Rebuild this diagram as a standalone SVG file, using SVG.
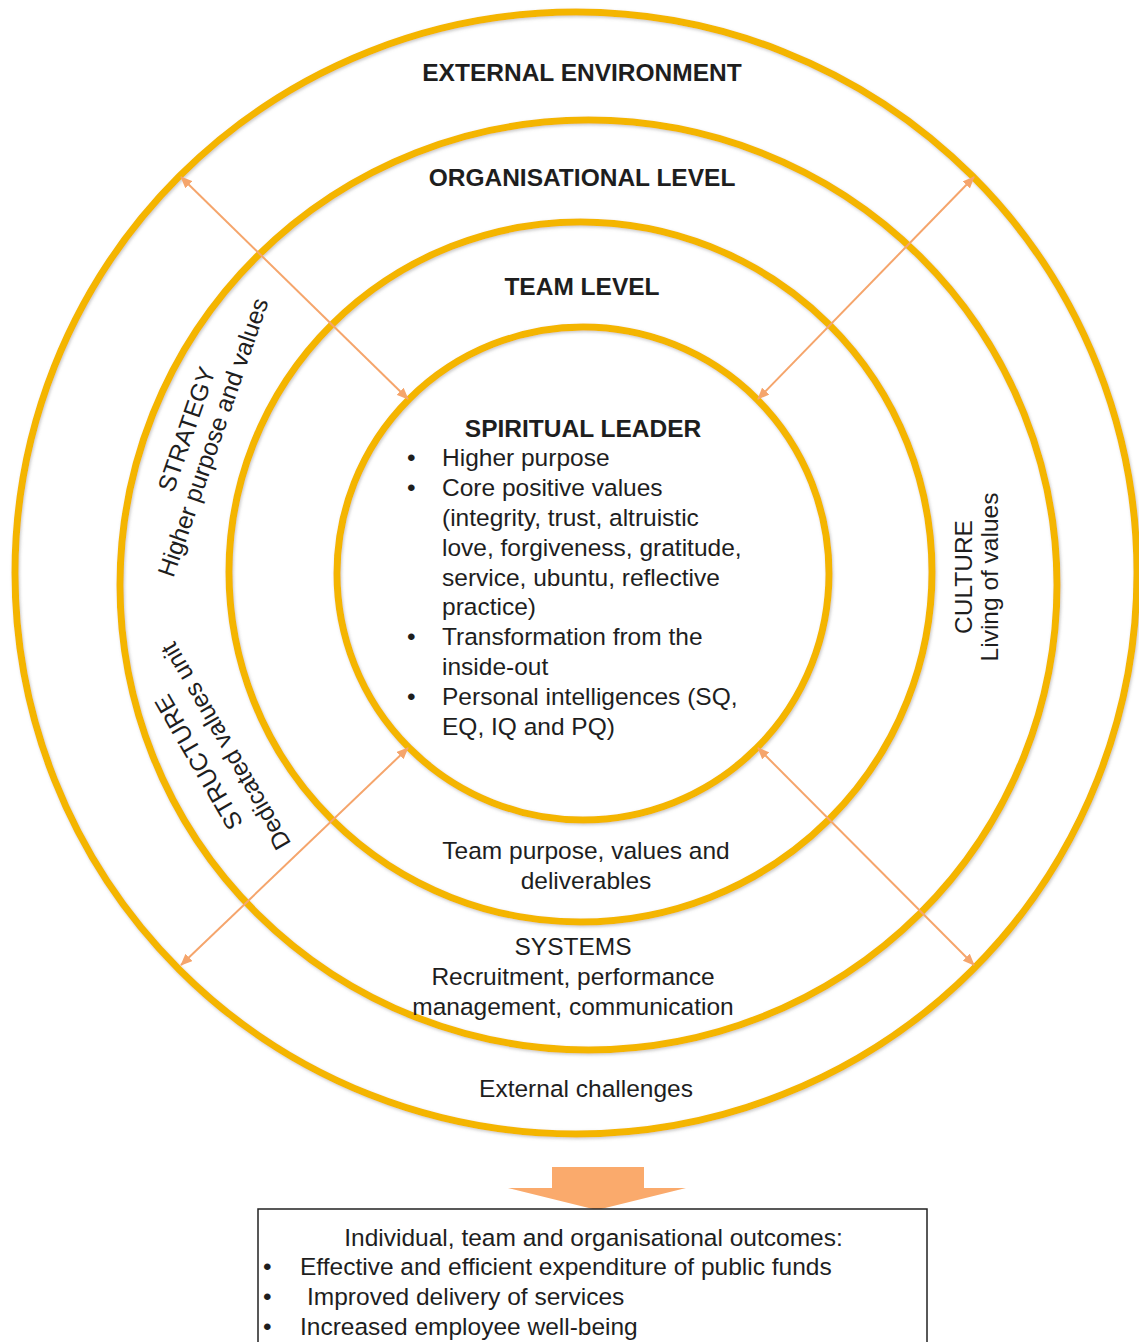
<svg xmlns="http://www.w3.org/2000/svg" width="1139" height="1342" viewBox="0 0 1139 1342">
<defs>
<style>
.ring{fill:none;stroke:#F4B500;stroke-width:7;filter:url(#sh)}
.t{font-family:"Liberation Sans",Arial,sans-serif;font-size:24.5px;fill:#1e1e1e}
.b{font-weight:bold}
.m{text-anchor:middle}
.conn{stroke:#F5A56C;stroke-width:2;fill:none;marker-start:url(#ah);marker-end:url(#ah)}
</style>
<filter id="sh" x="-5%" y="-5%" width="110%" height="110%">
<feDropShadow dx="1" dy="1.5" stdDeviation="1.5" flood-color="#888888" flood-opacity="0.45"/>
</filter>
<marker id="ah" viewBox="0 0 12 10" refX="11" refY="5" markerWidth="12" markerHeight="10" markerUnits="userSpaceOnUse" orient="auto-start-reverse">
<path d="M0,0 L12,5 L0,10 z" fill="#F5A56C"/>
</marker>
</defs>
<rect width="1139" height="1342" fill="#ffffff"/>

<g id="external-environment">
<ellipse class="ring" cx="576" cy="573" rx="561" ry="561"/>
<text class="t b m" x="582" y="81">EXTERNAL ENVIRONMENT</text>
<text class="t m" x="586" y="1097">External challenges</text>
</g>

<g id="organisational-level">
<ellipse class="ring" cx="588.5" cy="585" rx="468.5" ry="465"/>
<text class="t b m" x="582" y="186">ORGANISATIONAL LEVEL</text>
<text class="t m" transform="translate(194.5,432) rotate(-71)">STRATEGY</text>
<text class="t m" transform="translate(221,440) rotate(-71)">Higher purpose and values</text>
<text class="t m" transform="translate(206,758) rotate(-120)">STRUCTURE</text>
<text class="t m" transform="translate(233,742) rotate(-120)">Dedicated values unit</text>
<text class="t m" transform="translate(972,577) rotate(-90)">CULTURE</text>
<text class="t m" transform="translate(998,577) rotate(-90)">Living of values</text>
<text class="t m" x="573" y="955">SYSTEMS</text>
<text class="t m" x="573" y="985">Recruitment, performance</text>
<text class="t m" x="573" y="1015">management, communication</text>
</g>

<g id="team-level">
<ellipse class="ring" cx="580.5" cy="572" rx="351.5" ry="350"/>
<text class="t b m" x="582" y="295">TEAM LEVEL</text>
<text class="t m" x="586" y="859">Team purpose, values and</text>
<text class="t m" x="586" y="889">deliverables</text>
</g>

<g id="spiritual-leader">
<ellipse class="ring" cx="583" cy="573.5" rx="246" ry="246.5"/>
<text class="t b m" x="583" y="437">SPIRITUAL LEADER</text>
<g class="t">
<text x="407" y="466">•</text><text x="442" y="466">Higher purpose</text>
<text x="407" y="496">•</text><text x="442" y="496">Core positive values</text>
<text x="442" y="526">(integrity, trust, altruistic</text>
<text x="442" y="556">love, forgiveness, gratitude,</text>
<text x="442" y="586">service, ubuntu, reflective</text>
<text x="442" y="615">practice)</text>
<text x="407" y="645">•</text><text x="442" y="645">Transformation from the</text>
<text x="442" y="675">inside-out</text>
<text x="407" y="705">•</text><text x="442" y="705">Personal intelligences (SQ,</text>
<text x="442" y="735">EQ, IQ and PQ)</text>
</g>
</g>

<g id="connectors">
<line class="conn" x1="181" y1="177" x2="408" y2="399"/>
<line class="conn" x1="974" y1="177" x2="758" y2="399"/>
<line class="conn" x1="408" y1="748" x2="181" y2="965"/>
<line class="conn" x1="758" y1="748" x2="974" y2="965"/>
<polygon points="552,1167 644,1167 644,1188 686,1188 597,1210 508,1188 552,1188" fill="#FAAA6C"/>
</g>

<g id="outcomes">
<rect x="258" y="1209" width="669" height="140" fill="#ffffff" stroke="#222" stroke-width="1.5"/>
<text class="t m" x="593.5" y="1246">Individual, team and organisational outcomes:</text>
<text class="t" x="263" y="1275">•</text><text class="t" x="300" y="1275">Effective and efficient expenditure of public funds</text>
<text class="t" x="263" y="1305">•</text><text class="t" x="307" y="1305">Improved delivery of services</text>
<text class="t" x="263" y="1335">•</text><text class="t" x="300" y="1335">Increased employee well-being</text>
</g>
</svg>
